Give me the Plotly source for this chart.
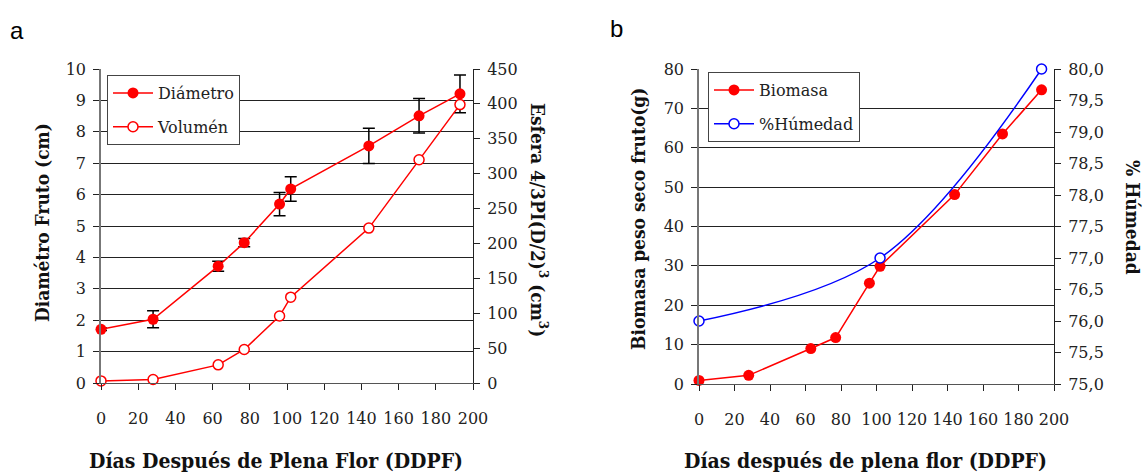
import plotly.graph_objects as go

# ---- data ----
dias = [0, 28, 63, 77, 96, 102, 144, 171, 193]
diametro = [1.71, 2.03, 3.72, 4.47, 5.70, 6.18, 7.55, 8.51, 9.21]
diametro_err = [0.04, 0.27, 0.16, 0.13, 0.37, 0.39, 0.56, 0.55, 0.60]
volumen = [3, 5, 26, 48, 96, 123, 222, 320, 399]

biomasa = [0.9, 2.2, 9.0, 11.8, 25.6, 29.9, 48.1, 63.5, 74.7]
dias_hum = [0, 102, 193]
humedad = [76.0, 77.0, 80.0]

x_ticks = [0, 20, 40, 60, 80, 100, 120, 140, 160, 180, 200]

W, H = 1145, 473
SERIF_B = "DejaVu Serif Condensed"
SERIF = "DejaVu Serif"
RED = "#ff0000"
BLUE = "#0000ff"

def px(x):
    return x / W

def py(y):
    return 1 - y / H

fig = go.Figure()

fig.add_trace(go.Scatter(
    x=dias, y=diametro, name="Diámetro", mode="lines+markers",
    line=dict(color=RED, width=1.5),
    marker=dict(color=RED, size=11, symbol="circle"),
    error_y=dict(type="data", array=diametro_err, color="black", thickness=1.5, width=6),
    xaxis="x", yaxis="y", legend="legend", legendgroup="a1", cliponaxis=False))
fig.add_trace(go.Scatter(
    x=dias, y=volumen, name="Volumén", mode="lines+markers",
    line=dict(color=RED, width=1.5),
    marker=dict(color="white", size=10, symbol="circle", line=dict(color=RED, width=1.5)),
    xaxis="x", yaxis="y2", legend="legend", legendgroup="a2", cliponaxis=False))

fig.add_trace(go.Scatter(
    x=dias, y=biomasa, name="Biomasa", mode="lines+markers",
    line=dict(color=RED, width=1.5),
    marker=dict(color=RED, size=11, symbol="circle"),
    xaxis="x2", yaxis="y3", legend="legend2", legendgroup="b1", cliponaxis=False))
fig.add_trace(go.Scatter(
    x=dias_hum, y=humedad, name="%Húmedad", mode="lines+markers",
    line=dict(color=BLUE, width=1.5, shape="spline", smoothing=1.0),
    marker=dict(color="white", size=10, symbol="circle", line=dict(color=BLUE, width=1.5)),
    xaxis="x2", yaxis="y4", legend="legend2", legendgroup="b2", cliponaxis=False))

tickfont = dict(family=SERIF, size=16, color="#222")

xcommon = dict(range=[0, 200], tickvals=x_ticks, ticks="outside", ticklen=6, tickcolor="#222",
               showline=True, linecolor="#555", linewidth=1, showgrid=False, zeroline=False,
               tickfont=tickfont, ticklabelstandoff=15, fixedrange=True, automargin=False)

ycommon = dict(ticks="outside", ticklen=6, tickcolor="#222", zeroline=False,
               tickfont=tickfont, ticklabelstandoff=4, automargin=False, fixedrange=True)

left_dom_x = [px(101), px(473)]
left_dom_y = [py(383), py(69)]
right_dom_x = [px(699), px(1054)]
right_dom_y = [py(384), py(69)]

fig.update_layout(
    template="none",
    width=W, height=H,
    margin=dict(l=0, r=0, t=0, b=0, autoexpand=False),
    paper_bgcolor="white", plot_bgcolor="white",
    font=dict(family=SERIF, color="#222"),
    separators=",.",
    showlegend=True,
    xaxis=dict(domain=left_dom_x, anchor="y", **xcommon),
    yaxis=dict(domain=left_dom_y, anchor="x", range=[0, 10], dtick=1,
               showline=True, linecolor="#777", linewidth=1.5,
               showgrid=True, gridcolor="#222", gridwidth=1, **ycommon),
    yaxis2=dict(overlaying="y", side="right", anchor="x", range=[0, 450], dtick=50,
                showline=True, linecolor="#222", linewidth=1,
                showgrid=False, **ycommon),
    xaxis2=dict(domain=right_dom_x, anchor="y3", **xcommon),
    yaxis3=dict(domain=right_dom_y, anchor="x2", range=[0, 80], dtick=10,
                showline=True, linecolor="#777", linewidth=1.5,
                showgrid=True, gridcolor="#222", gridwidth=1, **ycommon),
    yaxis4=dict(overlaying="y3", side="right", anchor="x2", range=[75, 80], dtick=0.5,
                tickformat=".1f",
                showline=True, linecolor="#222", linewidth=1,
                showgrid=False, **ycommon),
    legend=dict(x=px(107), y=py(75), xanchor="left", yanchor="top",
                bgcolor="white", bordercolor="#444", borderwidth=1,
                font=dict(family=SERIF, size=16, color="#222"),
                tracegroupgap=10, itemwidth=40),
    legend2=dict(x=px(708), y=py(72), xanchor="left", yanchor="top",
                 bgcolor="white", bordercolor="#444", borderwidth=1,
                 font=dict(family=SERIF, size=16, color="#222"),
                 tracegroupgap=10, itemwidth=40),
)

xt_font = dict(family=SERIF_B, size=21, color="#111")
yt_font = dict(family=SERIF_B, size=19, color="#111")
annots = [
    dict(text="a", x=px(17), y=py(30), font=dict(family="Liberation Sans", size=24, color="black")),
    dict(text="b", x=px(617), y=py(28), font=dict(family="Liberation Sans", size=24, color="black")),
    dict(text="<b>Diamétro Fruto (cm)</b>", x=px(42), y=py(222), textangle=-90, font=yt_font),
    dict(text="<b>Esfera 4/3PI(D/2)<sup>3</sup> (cm<sup>3</sup>)</b>", x=px(539), y=py(220), textangle=90, font=yt_font),
    dict(text="<b>Días Después de Plena Flor (DDPF)</b>", x=px(276), y=py(460), font=xt_font),
    dict(text="<b>Biomasa peso seco fruto(g)</b>", x=px(638), y=py(219), textangle=-90, font=yt_font),
    dict(text="<b>% Húmedad</b>", x=px(1133), y=py(217), textangle=90, font=yt_font),
    dict(text="<b>Días después de plena flor (DDPF)</b>", x=px(865), y=py(460), font=xt_font),
]
for a in annots:
    a.update(xref="paper", yref="paper", showarrow=False, xanchor="center", yanchor="middle")
fig.update_layout(annotations=annots)

fig.write_html("out.html")
